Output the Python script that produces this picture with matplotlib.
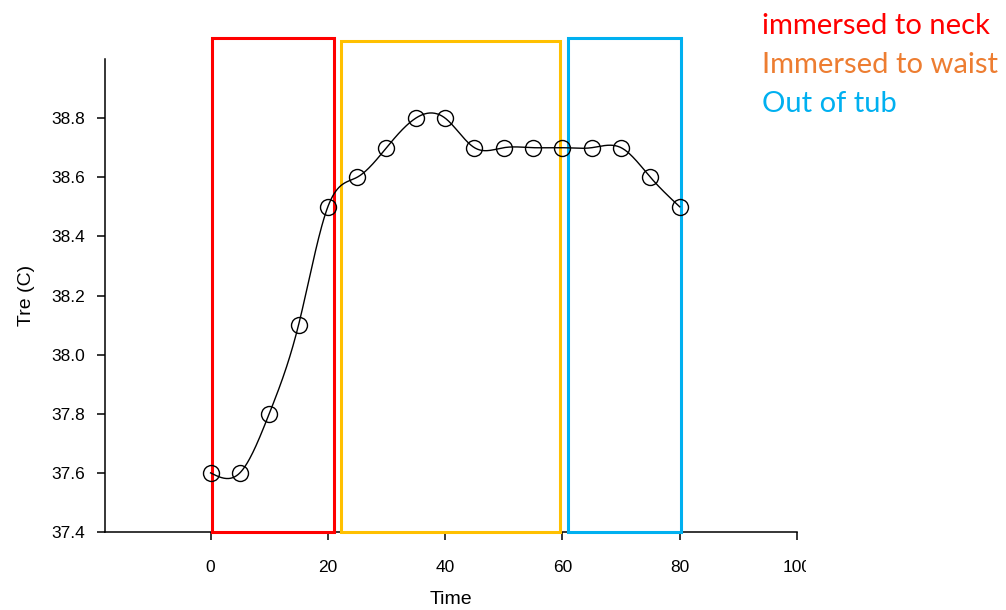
import numpy as np
import matplotlib
matplotlib.use("Agg")
import matplotlib.pyplot as plt
from matplotlib.patches import Rectangle
from matplotlib.transforms import Bbox

time = [0, 5, 10, 15, 20, 25, 30, 35, 40, 45, 50, 55, 60, 65, 70, 75, 80]
tre = [37.6, 37.6, 37.8, 38.1, 38.5, 38.6, 38.7, 38.8, 38.8, 38.7, 38.7, 38.7, 38.7, 38.7, 38.7, 38.6, 38.5]
phase_labels = ["immersed to neck", "Immersed to waist", "Out of tub"]
phase_colors = ["#FF0000", "#ED7D31", "#00B0F0"]
box_colors = ["#FF0000", "#FFC000", "#00B0F0"]
box_x = [(0.3, 21.0), (22.3, 59.6), (61.0, 80.2)]
box_top = [39.07, 39.06, 39.07]
xticks = [0, 20, 40, 60, 80, 100]
yticks = [37.4, 37.6, 37.8, 38.0, 38.2, 38.4, 38.6, 38.8]


def natural_spline(x, y, n=600):
    x = np.asarray(x, float); y = np.asarray(y, float)
    k = len(x); h = np.diff(x)
    A = np.zeros((k, k)); b = np.zeros(k)
    A[0, 0] = A[-1, -1] = 1
    for i in range(1, k - 1):
        A[i, i - 1] = h[i - 1]; A[i, i] = 2 * (h[i - 1] + h[i]); A[i, i + 1] = h[i]
        b[i] = 3 * ((y[i + 1] - y[i]) / h[i] - (y[i] - y[i - 1]) / h[i - 1])
    c = np.linalg.solve(A, b)
    xs = np.linspace(x[0], x[-1], n); ys = np.empty_like(xs)
    for j, xv in enumerate(xs):
        i = min(np.searchsorted(x, xv, side='right') - 1, k - 2)
        d = xv - x[i]
        bi = (y[i + 1] - y[i]) / h[i] - h[i] * (2 * c[i] + c[i + 1]) / 3
        di = (c[i + 1] - c[i]) / (3 * h[i])
        ys[j] = y[i] + bi * d + c[i] * d ** 2 + di * d ** 3
    return xs, ys


plt.rcParams['font.family'] = ['Liberation Sans', 'DejaVu Sans']
fig = plt.figure(figsize=(10.06, 6.10), dpi=100)
ax = fig.add_axes([105 / 1006, 1 - 532 / 610, (797 - 105) / 1006, (532 - 59) / 610])

xs, ys = natural_spline(time, tre)
ax.plot(xs, ys, color='black', lw=1.0, zorder=3.5)
ax.plot(time, tre, 'o', mfc='none', mec='black', ms=11.5, mew=1.0, zorder=4)

for (x0, x1), top, col in zip(box_x, box_top, box_colors):
    ax.add_patch(Rectangle((x0, 37.4), x1 - x0, top - 37.4, fill=False,
                           ec=col, lw=2.2, clip_on=False, zorder=3))

ax.set_xlim(-18, 100)
ax.set_ylim(37.4, 39.0)
ax.set_xticks(xticks)
ax.set_yticks(yticks)
ax.set_yticklabels([f"{v:.1f}" for v in yticks])
ax.spines['top'].set_visible(False)
ax.spines['right'].set_visible(False)
for s in ['left', 'bottom']:
    ax.spines[s].set_linewidth(1.1)
ax.tick_params(direction='out', length=6, width=1.1, labelsize=12.5)
ax.tick_params(axis='x', pad=14)
ax.tick_params(axis='y', pad=8)
ax.set_xlabel("Time", fontsize=14, labelpad=12)
ax.set_ylabel("Tre (C)", fontsize=14, labelpad=12)

fig.canvas.draw()
clip = Bbox.from_extents(0, 0, 806, 610)
for lab in ax.get_xticklabels():
    lab.set_clip_on(True)
    lab.set_clip_box(clip)

for i, (lab, col) in enumerate(zip(phase_labels, phase_colors)):
    fig.text(762 / 1006, 1 - (26 + i * 39) / 610, lab, color=col, fontsize=21,
             family=['Lato', 'DejaVu Sans'], va='center', ha='left')

fig.savefig("out.png", dpi=100)
